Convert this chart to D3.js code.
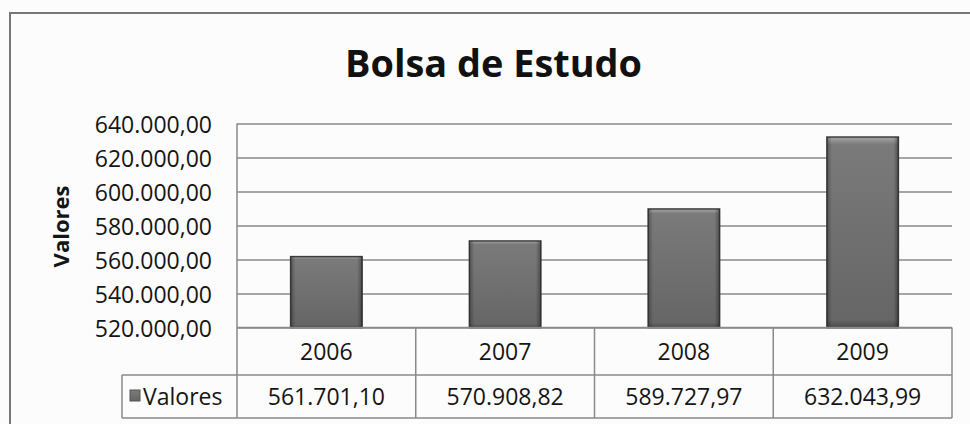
<!DOCTYPE html>
<html lang="pt">
<head>
    <meta charset="utf-8">
    <title>Bolsa de Estudo</title>
    <script src="https://d3js.org/d3.v7.min.js"></script>
    <style>
        body {
            margin: 0;
            padding: 0;
            background-color: #fcfcfc;
            font-family: 'Open Sans', sans-serif;
        }
        text { fill: #151515; }
    </style>
</head>
<body>
    <div id="chart"></div>

    <script>
        // Data
        var years = ["2006", "2007", "2008", "2009"];
        var valores = [561701.10, 570908.82, 589727.97, 632043.99];
        var yTicks = [520000, 540000, 560000, 580000, 600000, 620000, 640000];
        var seriesName = "Valores";
        var chartTitle = "Bolsa de Estudo";

        var W = 970, H = 424;
        // plot area box
        var plot = {left: 237, right: 952, top: 123.5, bottom: 327.5};
        var rowH = [47.5, 43]; // year row, value row
        var legendLeft = 122;

        // Brazilian number format
        var br = d3.formatLocale({decimal: ",", thousands: ".", grouping: [3], currency: ["R$", ""]});
        var fmt = br.format(",.2f");

        var svg = d3.select("#chart")
            .append("svg")
            .attr("width", W)
            .attr("height", H);

        // bar gradients
        var defs = svg.append("defs");
        var grad = defs.append("linearGradient")
            .attr("id", "barGrad")
            .attr("x1", 0).attr("y1", 0).attr("x2", 0).attr("y2", 1);
        grad.append("stop").attr("offset", "0%").attr("stop-color", "#a8a8a8");
        grad.append("stop").attr("offset", "4%").attr("stop-color", "#7a7a7a");
        grad.append("stop").attr("offset", "96%").attr("stop-color", "#666");
        grad.append("stop").attr("offset", "100%").attr("stop-color", "#4a4a4a");

        var gradH = defs.append("linearGradient")
            .attr("id", "barSide")
            .attr("x1", 0).attr("y1", 0).attr("x2", 1).attr("y2", 0);
        gradH.append("stop").attr("offset", "0%").attr("stop-color", "#000").attr("stop-opacity", 0.3);
        gradH.append("stop").attr("offset", "7%").attr("stop-color", "#000").attr("stop-opacity", 0);
        gradH.append("stop").attr("offset", "93%").attr("stop-color", "#000").attr("stop-opacity", 0);
        gradH.append("stop").attr("offset", "100%").attr("stop-color", "#000").attr("stop-opacity", 0.35);

        // outer chart border (runs off the picture on right and bottom)
        svg.append("rect")
            .attr("x", 10).attr("y", 13)
            .attr("width", W).attr("height", H)
            .attr("fill", "none")
            .attr("stroke", "#777")
            .attr("stroke-width", 2);

        // Title
        svg.append("text")
            .attr("x", 493.5)
            .attr("y", 77)
            .attr("text-anchor", "middle")
            .attr("textLength", 297)
            .attr("lengthAdjust", "spacingAndGlyphs")
            .style("font-size", "37px")
            .style("font-weight", "bold")
            .style("fill", "#111")
            .text(chartTitle);

        // Scales
        var x = d3.scaleBand()
            .domain(years)
            .range([plot.left, plot.right])
            .paddingInner(0.6)
            .paddingOuter(0.3);

        var xCol = d3.scaleBand()
            .domain(years)
            .range([plot.left, plot.right]);

        var y = d3.scaleLinear()
            .domain([520000, 640000])
            .range([plot.bottom, plot.top]);

        // Gridlines + tick labels
        var yAxis = d3.axisLeft(y)
            .tickValues(yTicks)
            .tickSize(-(plot.right - plot.left))
            .tickPadding(25)
            .tickFormat(fmt);

        var gy = svg.append("g")
            .attr("transform", "translate(" + plot.left + ",0)")
            .call(yAxis);
        gy.select(".domain").remove();
        gy.selectAll(".tick line")
            .attr("stroke", "#8a8a8a")
            .attr("stroke-width", 1.5);
        gy.selectAll(".tick text")
            .attr("dy", "8.5")
            .style("font-size", "23px")
            .style("font-family", "'Open Sans', sans-serif")
            .attr("fill", "#151515");

        // Y axis title
        svg.append("text")
            .attr("transform", "translate(69," + ((plot.top + plot.bottom) / 2 + 1) + ") rotate(-90)")
            .attr("text-anchor", "middle")
            .style("font-size", "22px")
            .style("font-weight", "bold")
            .text(seriesName);

        // Bars
        var bars = svg.append("g");
        bars.selectAll("rect.bar")
            .data(valores)
            .enter()
            .append("rect")
            .attr("class", "bar")
            .attr("x", function(d, i) { return x(years[i]); })
            .attr("y", function(d) { return y(d); })
            .attr("width", x.bandwidth())
            .attr("height", function(d) { return plot.bottom - y(d); })
            .attr("fill", "url(#barGrad)")
            .attr("stroke", "#3e3e3e")
            .attr("stroke-width", 1.5);
        bars.selectAll("rect.side")
            .data(valores)
            .enter()
            .append("rect")
            .attr("class", "side")
            .attr("x", function(d, i) { return x(years[i]); })
            .attr("y", function(d) { return y(d); })
            .attr("width", x.bandwidth())
            .attr("height", function(d) { return plot.bottom - y(d); })
            .attr("fill", "url(#barSide)");

        // Data table
        var tableTop = plot.bottom;
        var row2Top = tableTop + rowH[0];
        var tableBottom = row2Top + rowH[1];
        var table = svg.append("g")
            .attr("fill", "none")
            .attr("stroke", "#8a8a8a")
            .attr("stroke-width", 1.5);

        // horizontal lines
        table.append("line")
            .attr("x1", plot.left).attr("x2", plot.right)
            .attr("y1", tableTop).attr("y2", tableTop);
        table.append("line")
            .attr("x1", legendLeft).attr("x2", plot.right)
            .attr("y1", row2Top).attr("y2", row2Top);
        table.append("line")
            .attr("x1", legendLeft).attr("x2", plot.right)
            .attr("y1", tableBottom).attr("y2", tableBottom);
        // legend cell left edge
        table.append("line")
            .attr("x1", legendLeft).attr("x2", legendLeft)
            .attr("y1", row2Top).attr("y2", tableBottom);
        // plot left edge down through table
        table.append("line")
            .attr("x1", plot.left).attr("x2", plot.left)
            .attr("y1", plot.top).attr("y2", tableBottom);
        // column dividers
        table.selectAll("line.col")
            .data(years)
            .enter()
            .append("line")
            .attr("class", "col")
            .attr("x1", function(d) { return xCol(d) + xCol.bandwidth(); })
            .attr("x2", function(d) { return xCol(d) + xCol.bandwidth(); })
            .attr("y1", tableTop).attr("y2", tableBottom);

        // year labels
        svg.selectAll("text.year")
            .data(years)
            .enter()
            .append("text")
            .attr("class", "year")
            .attr("x", function(d) { return xCol(d) + xCol.bandwidth() / 2; })
            .attr("y", tableTop + rowH[0] / 2 + 8.5)
            .attr("text-anchor", "middle")
            .style("font-size", "23px")
            .text(function(d) { return d; });

        // values
        svg.selectAll("text.val")
            .data(valores)
            .enter()
            .append("text")
            .attr("class", "val")
            .attr("x", function(d, i) { return xCol(years[i]) + xCol.bandwidth() / 2; })
            .attr("y", row2Top + rowH[1] / 2 + 8)
            .attr("text-anchor", "middle")
            .style("font-size", "23px")
            .text(function(d) { return fmt(d); });

        // legend key
        svg.append("rect")
            .attr("x", 130).attr("y", 390)
            .attr("width", 10).attr("height", 11)
            .attr("fill", "url(#barGrad)")
            .attr("stroke", "#555")
            .attr("stroke-width", 1);
        svg.append("text")
            .attr("x", 143)
            .attr("y", row2Top + rowH[1] / 2 + 8)
            .style("font-size", "23px")
            .text(seriesName);
    </script>
</body>
</html>
